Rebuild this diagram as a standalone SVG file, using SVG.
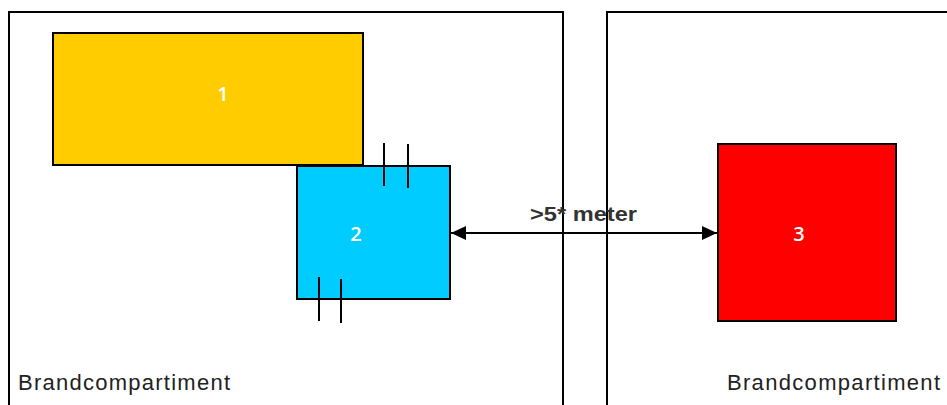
<svg xmlns="http://www.w3.org/2000/svg" width="947" height="405" viewBox="0 0 947 405">
<style>
.comp{fill:none;stroke:#000;stroke-width:2}
.node{stroke:#000;stroke-width:2}
.num{font-family:"Open Sans","DejaVu Sans",sans-serif;font-size:20px;font-weight:600;fill:#fff;text-anchor:middle}
.lbl{font-family:"Liberation Sans",Arial,sans-serif;font-size:22px;fill:#222}
.tick{stroke:#000;stroke-width:2}
</style>
<defs>
<marker id="ah" viewBox="0 0 15 14" refX="15" refY="7" markerWidth="15" markerHeight="14" markerUnits="userSpaceOnUse" orient="auto-start-reverse">
<path d="M0,0 L15,7 L0,14 Z" fill="#000"/>
</marker>
</defs>
<rect width="947" height="405" fill="#fff"/>
<g id="compartiment-links">
<path class="comp" d="M9,407 V12 H563 V407"/>
<text class="lbl" x="18" y="390" textLength="212" lengthAdjust="spacing">Brandcompartiment</text>
</g>
<g id="compartiment-rechts">
<path class="comp" d="M607,407 V12 H949"/>
<text class="lbl" x="727" y="390" textLength="213" lengthAdjust="spacing">Brandcompartiment</text>
</g>
<g id="node1">
<rect class="node" x="53" y="33" width="310" height="132" fill="#ffcc00"/>
<text class="num" x="223" y="101">1</text>
</g>
<g id="node2">
<rect class="node" x="297" y="166" width="153" height="133" fill="#00ccff"/>
<text class="num" x="356" y="241">2</text>
</g>
<g id="node3">
<rect class="node" x="718" y="144" width="178" height="177" fill="#ff0000"/>
<text class="num" x="799" y="241">3</text>
</g>
<g id="ticks">
<line class="tick" x1="384" y1="143" x2="384" y2="186"/>
<line class="tick" x1="408" y1="144" x2="408" y2="188"/>
<line class="tick" x1="319" y1="277" x2="319" y2="321"/>
<line class="tick" x1="341" y1="279" x2="341" y2="323"/>
</g>
<g id="connectors">
<line x1="451" y1="233" x2="717" y2="233" stroke="#000" stroke-width="2" marker-start="url(#ah)" marker-end="url(#ah)"/>
<text x="530" y="221" font-family="Liberation Sans, Arial, sans-serif" font-size="20" font-weight="bold" fill="#333" textLength="107" lengthAdjust="spacingAndGlyphs">&gt;5* meter</text>
</g>
</svg>
